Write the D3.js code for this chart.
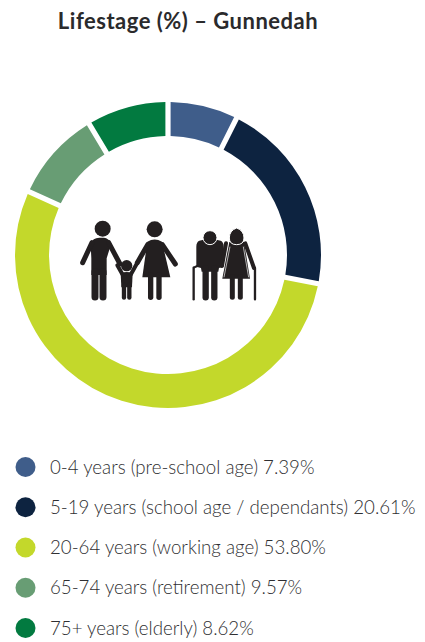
<!DOCTYPE html>
<html>
<head>
<meta charset="utf-8">
<script src="https://cdn.jsdelivr.net/npm/d3@7"></script>
<style>
  html, body { margin: 0; padding: 0; background: #fff; }
  svg { display: block; }
  .title { font-family: Lato, sans-serif; font-weight: 700; font-size: 22px; letter-spacing: 0.5px; fill: #2a2a2c; }
  .legend-label { font-family: Lato, sans-serif; font-weight: 300; font-size: 18.7px; fill: #2f2f32; }
</style>
</head>
<body>
<div id="chart"></div>
<script>
// ---------- Data ----------
const titleText = "Lifestage (%) – Gunnedah";
const categories = [
  "0-4 years (pre-school age)",
  "5-19 years (school age / dependants)",
  "20-64 years (working age)",
  "65-74 years (retirement)",
  "75+ years (elderly)"
];
const values = [7.39, 20.61, 53.80, 9.57, 8.62];
const colors = ["#3f5d8a", "#0d2340", "#c3d82b", "#689d74", "#027a40"];

// ---------- Layout ----------
const width = 425;
const height = 642;
const center = { x: 168, y: 255 };
const outerRadius = 153;
const innerRadius = 119;

const svg = d3.select("#chart").append("svg")
  .attr("width", width)
  .attr("height", height)
  .attr("viewBox", `0 0 ${width} ${height}`);

svg.append("text")
  .attr("class", "title")
  .attr("x", 188)
  .attr("y", 29)
  .attr("text-anchor", "middle")
  .text(titleText);

// ---------- Donut ----------
const pie = d3.pie().sort(null);
const arc = d3.arc()
  .innerRadius(innerRadius)
  .outerRadius(outerRadius)
  .padAngle(0.034)
  .padRadius(outerRadius);

svg.append("g")
  .attr("transform", `translate(${center.x},${center.y})`)
  .selectAll("path")
  .data(pie(values))
  .enter()
  .append("path")
  .attr("fill", (d, i) => colors[i])
  .attr("d", arc);

// ---------- Legend ----------
const legendY = d3.scalePoint()
  .domain(categories)
  .range([467, 628]);

const legend = svg.append("g").attr("class", "legend");

legend.selectAll("circle")
  .data(categories)
  .enter()
  .append("circle")
  .attr("cx", 25.5)
  .attr("cy", d => legendY(d))
  .attr("r", 10)
  .attr("fill", (d, i) => colors[i]);

legend.selectAll("text")
  .data(categories)
  .enter()
  .append("text")
  .attr("class", "legend-label")
  .attr("x", 50)
  .attr("y", d => legendY(d) + 6.5)
  .text((d, i) => `${d} ${values[i].toFixed(2)}%`);

// ---------- Family icon (drawn at 3x, scaled down) ----------
const icon = svg.append("g")
  .attr("transform", "translate(60,200) scale(0.3333)")
  .attr("fill", "#231f20")
  .attr("stroke", "none");

function limb(x1, y1, x2, y2, w) {
  icon.append("line")
    .attr("x1", x1).attr("y1", y1)
    .attr("x2", x2).attr("y2", y2)
    .attr("stroke", "#231f20")
    .attr("stroke-width", w)
    .attr("stroke-linecap", "round");
}

// man
icon.append("circle").attr("cx", 128).attr("cy", 86).attr("r", 24);
icon.append("path").attr("d", "M92,132 Q98,113 118,113 L132,113 Q146,115 154,130 L140,175 L140,225 L94,225 L94,175 Z");
limb(96, 128, 68, 188, 15);
limb(146, 128, 180, 192, 15);
limb(105, 215, 105, 291, 21);
limb(129, 215, 129, 291, 21);

// child
icon.append("circle").attr("cx", 200).attr("cy", 197).attr("r", 17);
icon.append("path").attr("d", "M182,220 Q200,212 218,220 L216,262 L184,262 Z");
limb(188, 224, 172, 196, 12);
limb(212, 224, 232, 188, 12);
limb(192, 255, 192, 293, 13);
limb(208, 255, 208, 293, 13);

// woman
icon.append("circle").attr("cx", 284).attr("cy", 88).attr("r", 24);
icon.append("path").attr("d", "M262,125 Q284,112 306,125 L331,232 L247,232 Z");
limb(263, 134, 232, 188, 15);
limb(307, 134, 346, 192, 15);
limb(272, 225, 272, 292, 16);
limb(297, 225, 297, 292, 16);

// old man
icon.append("path").attr("d", "M418,122 Q450,112 482,122 Q491,126 491,140 L491,200 L477,204 L475,215 L425,215 L423,204 L409,200 L409,140 Q409,126 418,122 Z");
limb(437, 205, 437, 292, 19);
limb(463, 205, 463, 292, 19);
limb(401, 203, 401, 298, 7);
icon.append("path").attr("d", "M401,203 L412,198").attr("stroke", "#231f20").attr("stroke-width", 6);
icon.append("circle").attr("cx", 450).attr("cy", 113).attr("r", 21)
  .attr("stroke", "#fff").attr("stroke-width", 3);

// old woman
icon.append("path").attr("d", "M508,126 L552,126 L570,236 L487,236 Z");
limb(517, 230, 517, 292, 15);
limb(541, 230, 541, 292, 15);
limb(498, 130, 486, 198, 12);
limb(556, 130, 582, 204, 12);
limb(585, 204, 585, 298, 7);
icon.append("path")
  .attr("d", "M530,84 Q552,92 552,114 Q552,134 530,134 Q508,134 508,114 Q508,92 530,84 Z")
  .attr("stroke", "#fff").attr("stroke-width", 3);
icon.append("path").attr("d", "M510,140 L492,232 M550,140 L566,232")
  .attr("stroke", "#fff").attr("stroke-width", 2).attr("fill", "none");
</script>
</body>
</html>
